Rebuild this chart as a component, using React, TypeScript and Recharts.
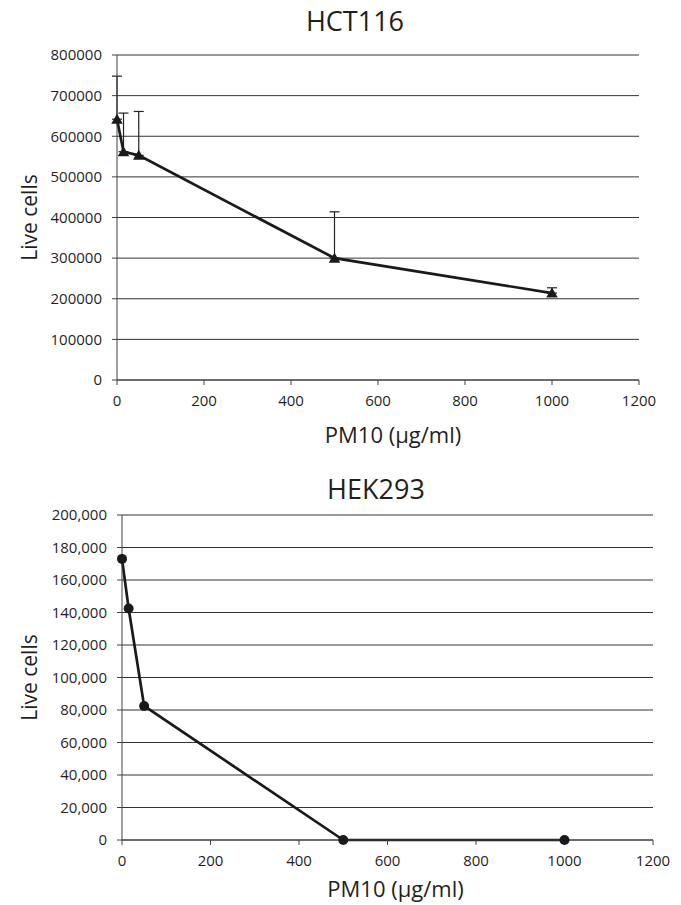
import React from 'react';
import { LineChart, Line, XAxis, YAxis, CartesianGrid, ErrorBar, Label } from 'recharts';

const doses = [0, 15, 50, 500, 1000];
const hctLiveCells = [642000, 562000, 553000, 300000, 214000];
const hctErrorPlus = [106000, 95000, 108000, 114000, 13000];
const hekLiveCells = [173000, 142500, 82500, 0, 0];
const xTicks = [0, 200, 400, 600, 800, 1000, 1200];
const hctYTicks = [0, 100000, 200000, 300000, 400000, 500000, 600000, 700000, 800000];
const hekYTicks = [0, 20000, 40000, 60000, 80000, 100000, 120000, 140000, 160000, 180000, 200000];

const hctData = doses.map((d, i) => ({ dose: d, live: hctLiveCells[i], err: [0, hctErrorPlus[i]] }));
const hekData = doses.map((d, i) => ({ dose: d, live: hekLiveCells[i] }));

const FONT = '"Open Sans", sans-serif';
const TEXT = '#1f1f1f';
const AXIS = '#404040';
const GRID = '#333333';
const LINE = '#1a1a1a';

const tickStyle = { fontFamily: FONT, fontSize: 15, fill: TEXT };

const Triangle = (props: any) => {
  const { cx, cy, index } = props;
  if (cx == null || cy == null) return null;
  const s = 11.5;
  const h = 10;
  return (
    <path
      key={`tri-${index}`}
      d={`M${cx},${cy - h * 0.55} L${cx + s / 2},${cy + h * 0.45} L${cx - s / 2},${cy + h * 0.45} Z`}
      fill={LINE}
    />
  );
};

const Circle = (props: any) => {
  const { cx, cy, index } = props;
  if (cx == null || cy == null) return null;
  return <circle key={`c-${index}`} cx={cx} cy={cy} r={5} fill={LINE} />;
};

export default function App() {
  return (
    <div style={{ position: 'absolute', left: 0, top: 0, width: 681, height: 905, background: '#fff', overflow: 'hidden' }}>
      <div style={{ position: 'absolute', left: 0, top: 0 }}>
        <LineChart width={681} height={460} data={hctData} margin={{ top: 55, right: 42, left: 0, bottom: 0 }}>
          <CartesianGrid vertical={false} stroke={GRID} strokeWidth={1} />
          <XAxis
            type="number"
            dataKey="dose"
            domain={[0, 1200]}
            ticks={xTicks}
            height={80}
            tickSize={5}
            tickMargin={10}
            stroke={AXIS}
            tick={tickStyle}
            interval={0}
          >
            <Label
              value="PM10 (µg/ml)"
              position="insideBottom"
              offset={17}
              dx={15}
              style={{ fontFamily: FONT, fontSize: 22, fill: TEXT }}
            />
          </XAxis>
          <YAxis
            type="number"
            domain={[0, 800000]}
            ticks={hctYTicks}
            width={117}
            tickSize={5}
            tickMargin={10}
            stroke={AXIS}
            tick={tickStyle}
            interval={0}
          >
            <Label
              value="Live cells"
              angle={-90}
              position="insideLeft"
              offset={30}
              style={{ fontFamily: FONT, fontSize: 21, fill: TEXT, textAnchor: 'middle' }}
            />
          </YAxis>
          <Line
            type="linear"
            dataKey="live"
            stroke={LINE}
            strokeWidth={2.7}
            dot={Triangle}
            activeDot={false}
            isAnimationActive={false}
          >
            <ErrorBar dataKey="err" width={5} stroke="#222" strokeWidth={1.2} direction="y" />
          </Line>
        </LineChart>
      </div>
      <div style={{ position: 'absolute', left: 0, top: 460 }}>
        <LineChart width={681} height={445} data={hekData} margin={{ top: 55, right: 28, left: 0, bottom: 0 }}>
          <CartesianGrid vertical={false} stroke={GRID} strokeWidth={1} />
          <XAxis
            type="number"
            dataKey="dose"
            domain={[0, 1200]}
            ticks={xTicks}
            height={65}
            tickSize={5}
            tickMargin={10}
            stroke={AXIS}
            tick={tickStyle}
            interval={0}
          >
            <Label
              value="PM10 (µg/ml)"
              position="insideBottom"
              offset={8}
              dx={8}
              style={{ fontFamily: FONT, fontSize: 22, fill: TEXT }}
            />
          </XAxis>
          <YAxis
            type="number"
            domain={[0, 200000]}
            ticks={hekYTicks}
            width={122}
            tickSize={5}
            tickMargin={10}
            stroke={AXIS}
            tick={tickStyle}
            interval={0}
            tickFormatter={(v: number) => v.toLocaleString('en-US')}
          >
            <Label
              value="Live cells"
              angle={-90}
              position="insideLeft"
              offset={30}
              style={{ fontFamily: FONT, fontSize: 21, fill: TEXT, textAnchor: 'middle' }}
            />
          </YAxis>
          <Line
            type="linear"
            dataKey="live"
            stroke={LINE}
            strokeWidth={2.7}
            dot={Circle}
            activeDot={false}
            isAnimationActive={false}
          />
        </LineChart>
      </div>
      <svg width={681} height={905} style={{ position: 'absolute', left: 0, top: 0, pointerEvents: 'none' }}>
        <text x={355} y={31} textAnchor="middle" fontFamily={FONT} fontSize={27} fill={TEXT}>HCT116</text>
        <text x={376} y={499} textAnchor="middle" fontFamily={FONT} fontSize={27} fill={TEXT}>HEK293</text>
      </svg>
    </div>
  );
}
